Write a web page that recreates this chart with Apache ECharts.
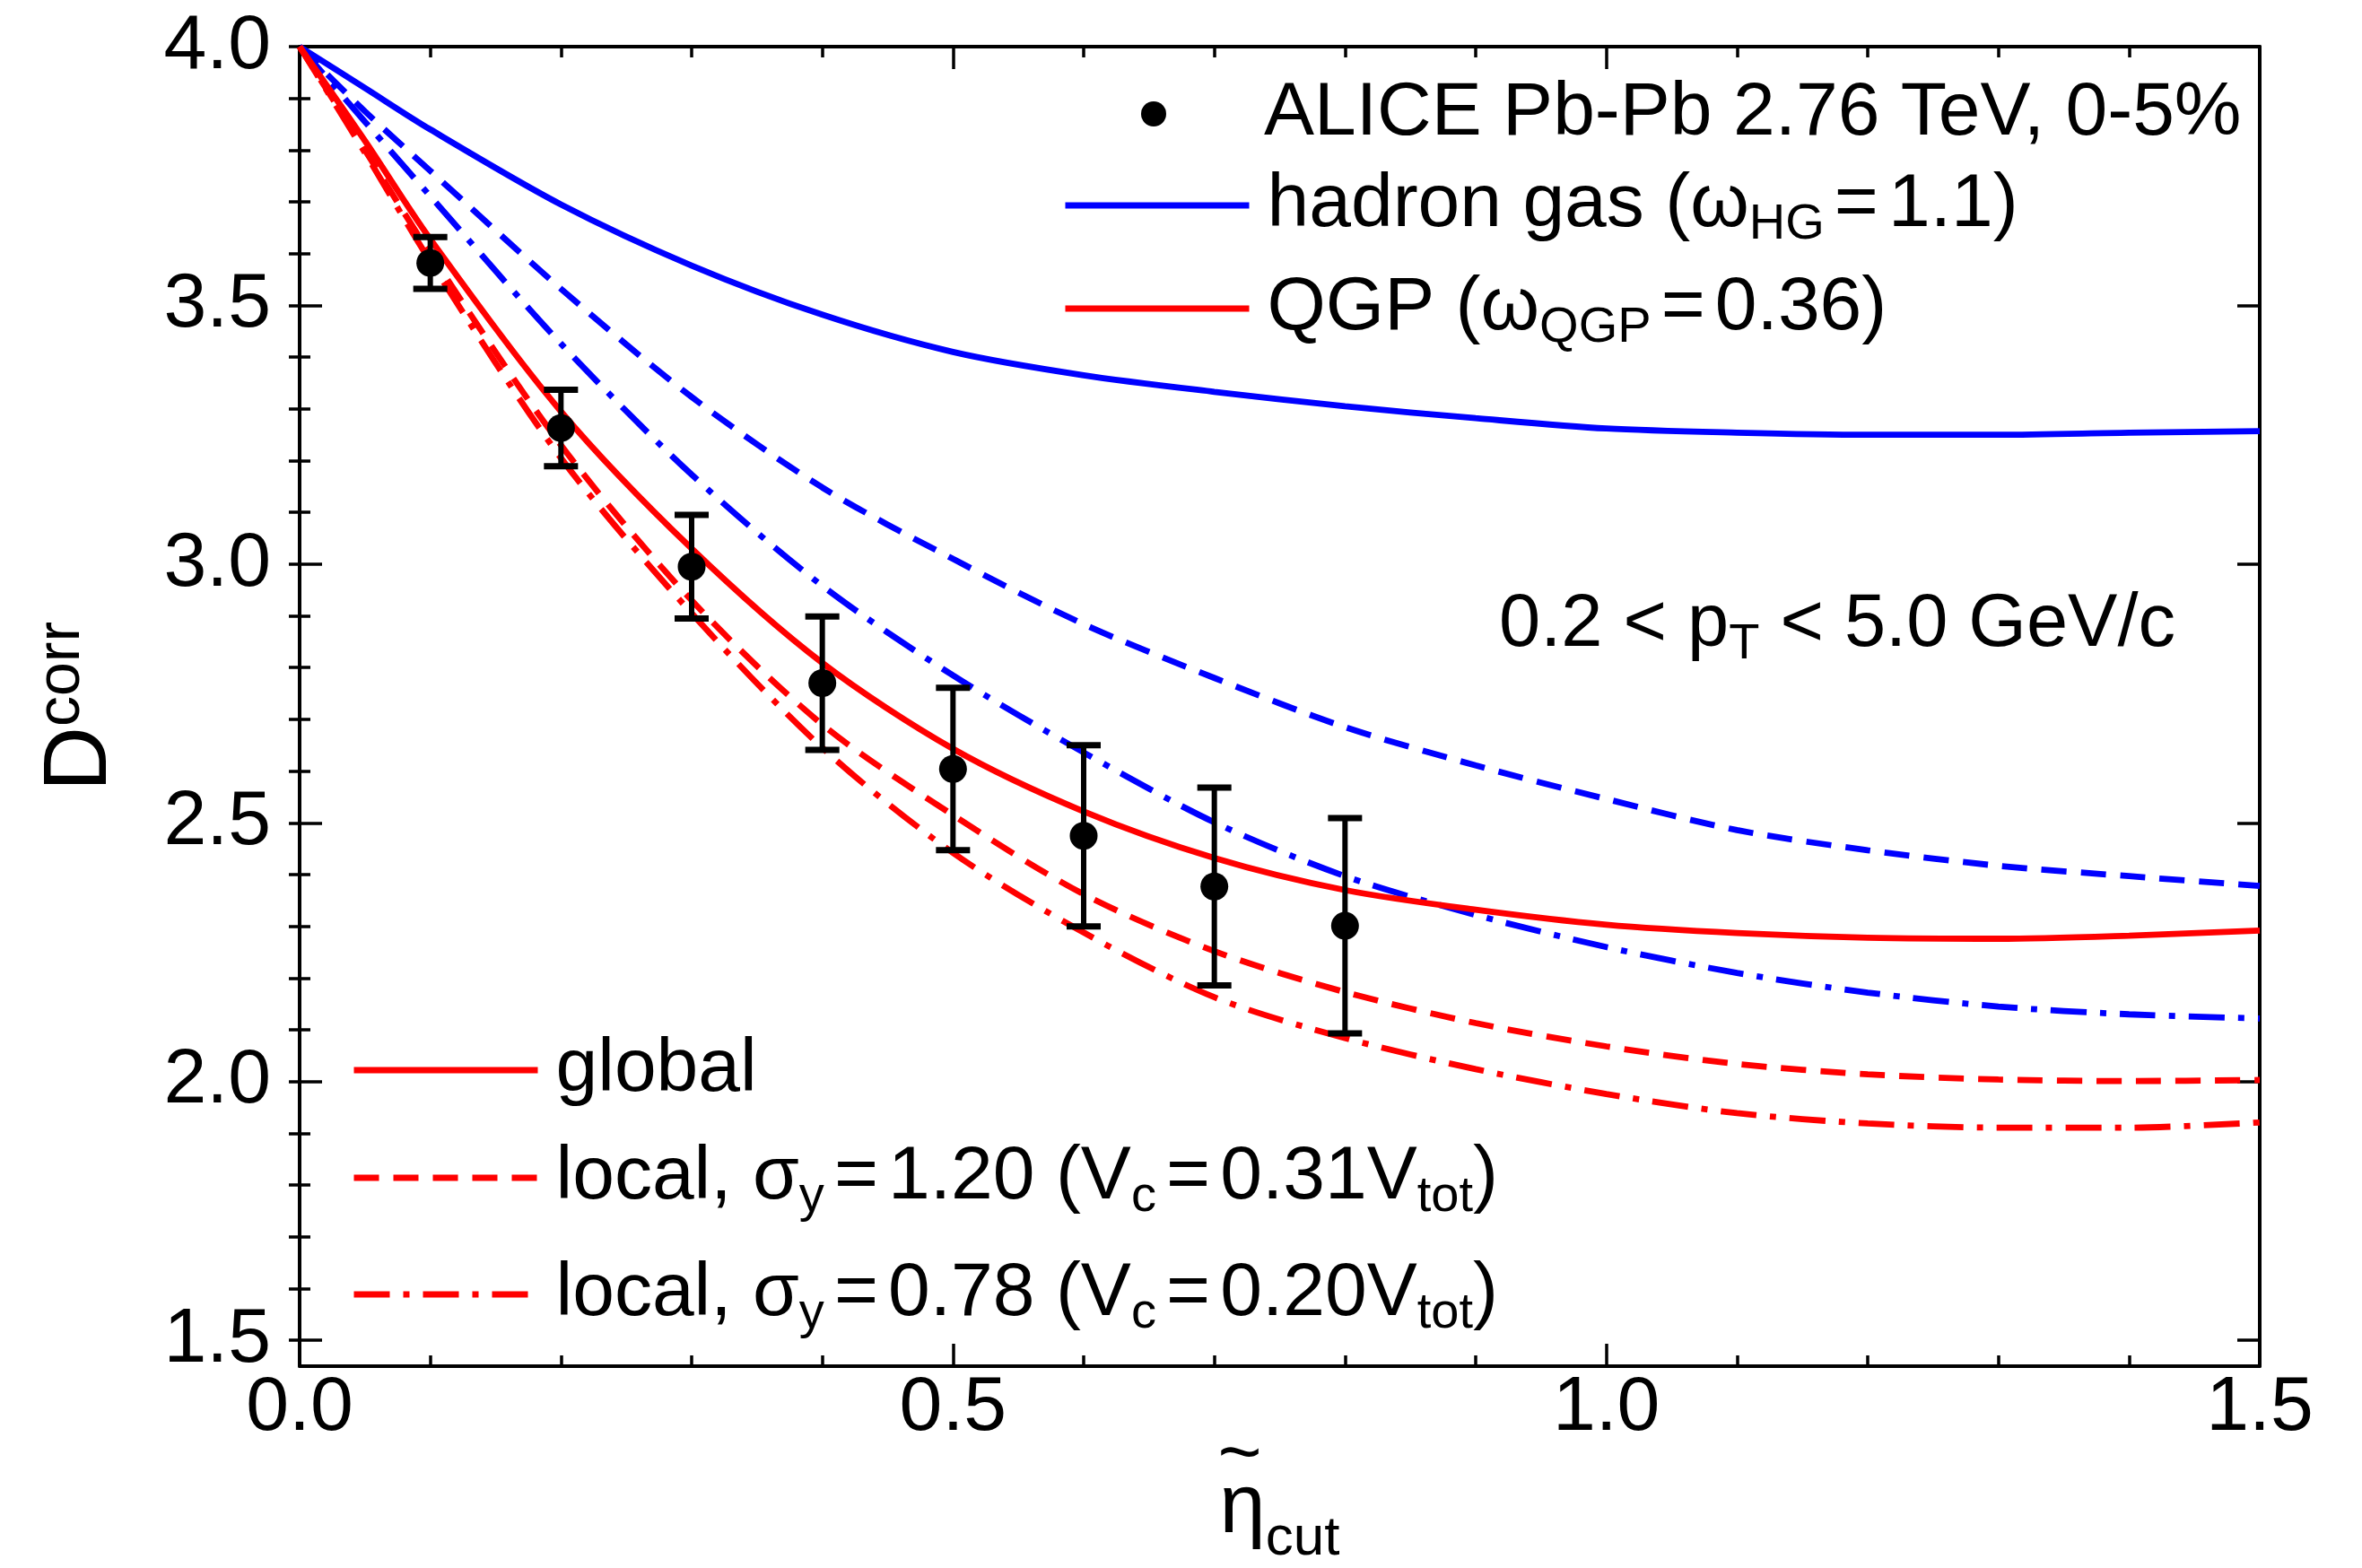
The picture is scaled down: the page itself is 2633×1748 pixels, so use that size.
<!DOCTYPE html>
<html>
<head>
<meta charset="utf-8">
<script src="https://cdn.jsdelivr.net/npm/echarts@6/dist/echarts.min.js"></script>
<style>
html,body{margin:0;padding:0;background:#ffffff;}
#c{width:2633px;height:1748px;}
</style>
</head>
<body>
<div id="c"></div>
<script>
// ---------------- data ----------------
const etaCut      = [0, 0.05, 0.1, 0.2, 0.3, 0.4, 0.5, 0.6, 0.7, 0.8, 0.9, 1.0, 1.1, 1.2, 1.3, 1.4, 1.5];
const hgGlobal    = [4.0, 3.92, 3.84, 3.695, 3.577, 3.482, 3.41, 3.365, 3.333, 3.305, 3.282, 3.262, 3.254, 3.25, 3.25, 3.254, 3.257];
const hgLocal120  = [4.0, 3.875, 3.76, 3.532, 3.323, 3.148, 3.01, 2.884, 2.78, 2.685, 2.611, 2.546, 2.486, 2.447, 2.417, 2.397, 2.378];
const hgLocal078  = [4.0, 3.855, 3.711, 3.426, 3.173, 2.958, 2.785, 2.636, 2.501, 2.397, 2.322, 2.26, 2.21, 2.172, 2.145, 2.13, 2.122];
const qgpGlobal   = [4.0, 3.818, 3.628, 3.295, 3.03, 2.809, 2.643, 2.522, 2.432, 2.37, 2.332, 2.303, 2.287, 2.278, 2.276, 2.282, 2.292];
const qgpLocal120 = [4.0, 3.80, 3.60, 3.23, 2.93, 2.69, 2.515, 2.362, 2.252, 2.173, 2.113, 2.068, 2.034, 2.014, 2.004, 2.001, 2.003];
const qgpLocal078 = [4.0, 3.795, 3.585, 3.205, 2.905, 2.645, 2.442, 2.288, 2.163, 2.084, 2.024, 1.976, 1.939, 1.919, 1.911, 1.911, 1.921];

const aliceEta = [0.1, 0.2, 0.3, 0.4, 0.5, 0.6, 0.7, 0.8];
const aliceD   = [3.582, 3.263, 2.995, 2.770, 2.604, 2.475, 2.377, 2.301];
const aliceErr = [0.05, 0.074, 0.10, 0.129, 0.157, 0.175, 0.191, 0.208];

const yMajorTicks = [1.5, 2.0, 2.5, 3.0, 3.5, 4.0];
const yMinorTicks = [1.5, 1.6, 1.7, 1.8, 1.9, 2.0, 2.1, 2.2, 2.3, 2.4, 2.5, 2.6, 2.7, 2.8, 2.9, 3.0, 3.1, 3.2, 3.3, 3.4, 3.5, 3.6, 3.7, 3.8, 3.9, 4.0];

const nameAlice = 'ALICE Pb-Pb 2.76 TeV, 0-5%';
const nameHG    = 'hadron gas';
const nameQGP   = 'QGP';
const nameGlob  = 'global';
const nameL120  = 'local 1.20';
const nameL078  = 'local 0.78';

const labelAlice = '{m|ALICE Pb-Pb 2.76 TeV, 0-5%}';
const labelHG    = '{m|hadron gas (ω}{s|HG}{t| }{m|=}{t| }{m|1.1)}';
const labelQGP   = '{m|QGP (ω}{s|QGP}{t| }{m|=}{t| }{m|0.36)}';
const labelGlob  = '{m|global}';
const labelL120  = '{m|local, σ}{s|y}{t| }{m|=}{t| }{m|1.20 (V}{s|c}{t| }{m|=}{t| }{m|0.31V}{s|tot}{m|)}';
const labelL078  = '{m|local, σ}{s|y}{t| }{m|=}{t| }{m|0.78 (V}{s|c}{t| }{m|=}{t| }{m|0.20V}{s|tot}{m|)}';
const labelCut   = '{m|0.2 < p}{s|T}{m| < 5.0 GeV/c}';

// ---------------- styles ----------------
const FONT = "'Liberation Sans', Arial, Helvetica, sans-serif";
const BLUE = '#0000ff', RED = '#ff0000';
const LW = 6.8;
const DASH = [28, 16];
const DASHDOT = [40, 15, 7, 15];

const pair = (xs, ys) => xs.map((x, i) => [x, ys[i]]);

const richText = {
  m: {fontSize: 84, fontFamily: FONT, color: '#000', lineHeight: 100, verticalAlign: 'middle'},
  s: {fontSize: 56, fontFamily: FONT, color: '#000', lineHeight: 40, verticalAlign: 'bottom'},
  t: {fontSize: 40, fontFamily: FONT, color: '#000', lineHeight: 100, verticalAlign: 'middle'}
};
const richNote = {
  m: {fontSize: 83, fontFamily: FONT, color: '#000', lineHeight: 100, verticalAlign: 'middle'},
  s: {fontSize: 56, fontFamily: FONT, color: '#000', lineHeight: 40, verticalAlign: 'bottom'}
};

const axisLineStyle = {color: '#000', width: 4};
const tickLine = {color: '#000', width: 3.5};

function lineSeries(name, ys, color, type, z) {
  return {
    type: 'line', name: name, data: pair(etaCut, ys),
    symbol: 'none', showSymbol: false, smooth: 0.3,
    lineStyle: {color: color, width: LW, type: type, cap: 'butt'},
    itemStyle: {color: color}, z: z, silent: true, animation: false,
    xAxisIndex: 0, yAxisIndex: 0
  };
}

function legendRow(name, label, left, cy) {
  return {
    data: [name], orient: 'vertical', left: left, top: cy - 50,
    itemWidth: 205, itemHeight: 14, padding: 0, itemGap: 0,
    selectedMode: false,
    itemStyle: {opacity: 0},
    lineStyle: {width: 7},
    formatter: () => label,
    textStyle: {padding: [0, 0, 0, 15], rich: richText}
  };
}

const chart = echarts.init(document.getElementById('c'), null, {renderer: 'canvas', width: 2633, height: 1748});

const option = {
  backgroundColor: '#ffffff',
  animation: false,
  grid: {left: 334, right: 114, top: 52, bottom: 225, containLabel: false, outerBoundsMode: 'none'},
  xAxis: [
    {
      type: 'value', position: 'bottom', min: 0, max: 1.5, interval: 0.5,
      axisLine: {show: true, onZero: false, lineStyle: axisLineStyle},
      axisTick: {show: true, inside: true, length: 25, lineStyle: tickLine},
      minorTick: {show: true, splitNumber: 5, length: 12, lineStyle: tickLine},
      splitLine: {show: false}, minorSplitLine: {show: false},
      axisLabel: {fontSize: 86, fontFamily: FONT, color: '#000', margin: 4, formatter: v => v.toFixed(1)},
      name: '{e|η}{c|cut}', nameLocation: 'middle', nameGap: 110,
      nameTextStyle: {
        rich: {
          e: {fontSize: 92, fontFamily: FONT, color: '#000', lineHeight: 100, verticalAlign: 'middle'},
          c: {fontSize: 62, fontFamily: FONT, color: '#000', lineHeight: 40, verticalAlign: 'top', padding: [52, 0, 0, 0]}
        }
      }
    },
    {
      type: 'value', position: 'top', min: 0, max: 1.5, interval: 0.5,
      axisLine: {show: true, onZero: false, lineStyle: axisLineStyle},
      axisTick: {show: true, inside: true, length: 25, lineStyle: tickLine},
      minorTick: {show: true, splitNumber: 5, length: 12, lineStyle: tickLine},
      splitLine: {show: false}, minorSplitLine: {show: false},
      axisLabel: {show: false}
    }
  ],
  yAxis: [
    {
      type: 'value', position: 'left', min: 1.45, max: 4.0,
      axisLine: {show: true, onZero: false, lineStyle: axisLineStyle},
      axisTick: {show: true, inside: true, length: 25, customValues: yMajorTicks, lineStyle: tickLine},
      axisLabel: {customValues: yMajorTicks, fontSize: 86, fontFamily: FONT, color: '#000', margin: 32, formatter: v => v.toFixed(1)},
      splitLine: {show: false},
      name: '{d|D}{p|corr}', nameLocation: 'middle', nameGap: 189, nameRotate: 90,
      nameTextStyle: {
        rich: {
          d: {fontSize: 100, fontFamily: FONT, color: '#000', lineHeight: 110, verticalAlign: 'middle'},
          p: {fontSize: 68, fontFamily: FONT, color: '#000', lineHeight: 52, verticalAlign: 'top'}
        }
      }
    },
    {
      type: 'value', position: 'left', min: 1.45, max: 4.0,
      axisLine: {show: false},
      axisTick: {show: true, inside: true, length: 12, customValues: yMinorTicks, lineStyle: tickLine},
      axisLabel: {show: false}, splitLine: {show: false}
    },
    {
      type: 'value', position: 'right', min: 1.45, max: 4.0,
      axisLine: {show: true, onZero: false, lineStyle: axisLineStyle},
      axisTick: {show: true, inside: true, length: 25, customValues: yMajorTicks, lineStyle: tickLine},
      axisLabel: {show: false}, splitLine: {show: false}
    },
    {
      type: 'value', position: 'right', min: 1.45, max: 4.0,
      axisLine: {show: false},
      axisTick: {show: true, inside: true, length: 12, customValues: yMinorTicks, lineStyle: tickLine},
      axisLabel: {show: false}, splitLine: {show: false}
    }
  ],
  legend: [
    {
      data: [nameAlice], orient: 'vertical', left: 1272, top: 135 - 50,
      itemWidth: 28, itemHeight: 28, padding: 0, itemGap: 0,
      selectedMode: false,
      formatter: () => labelAlice,
      textStyle: {padding: [0, 0, 0, 104], rich: richText}
    },
    legendRow(nameHG, labelHG, 1184, 237),
    legendRow(nameQGP, labelQGP, 1184, 352),
    legendRow(nameGlob, labelGlob, 391, 1201),
    legendRow(nameL120, labelL120, 391, 1321),
    legendRow(nameL078, labelL078, 391, 1451)
  ],
  graphic: [
    {
      type: 'text', x: 1671, y: 697, silent: true,
      style: {text: labelCut, rich: richNote, align: 'left', verticalAlign: 'middle'}
    },
    {
      type: 'text', x: 1382, y: 1624, silent: true,
      style: {text: '~', fontSize: 84, fontFamily: FONT, fill: '#000', align: 'center', verticalAlign: 'middle'}
    }
  ],
  series: [
    lineSeries(nameHG, hgGlobal, BLUE, 'solid', 2),
    lineSeries('hadron gas local 1.20', hgLocal120, BLUE, DASH, 2),
    lineSeries('hadron gas local 0.78', hgLocal078, BLUE, DASHDOT, 2),
    lineSeries(nameQGP, qgpGlobal, RED, 'solid', 3),
    lineSeries(nameL120, qgpLocal120, RED, DASH, 3),
    lineSeries(nameL078, qgpLocal078, RED, DASHDOT, 3),
    Object.assign(lineSeries(nameGlob, qgpGlobal, RED, 'solid', 1), {data: []}),
    {
      type: 'custom', name: 'ALICE errors', silent: true, z: 5,
      data: aliceEta.map((x, i) => [x, aliceD[i] - aliceErr[i], aliceD[i] + aliceErr[i]]),
      encode: {x: 0, y: [1, 2]},
      renderItem: (params, api) => {
        const x = api.value(0);
        const lo = api.coord([x, api.value(1)]);
        const hi = api.coord([x, api.value(2)]);
        const hw = 19;
        return {
          type: 'group',
          children: [
            {type: 'line', shape: {x1: lo[0], y1: lo[1], x2: hi[0], y2: hi[1]}, style: {stroke: '#000', lineWidth: 6}},
            {type: 'line', shape: {x1: lo[0] - hw, y1: lo[1], x2: lo[0] + hw, y2: lo[1]}, style: {stroke: '#000', lineWidth: 7}},
            {type: 'line', shape: {x1: hi[0] - hw, y1: hi[1], x2: hi[0] + hw, y2: hi[1]}, style: {stroke: '#000', lineWidth: 7}}
          ]
        };
      }
    },
    {
      type: 'scatter', name: nameAlice, data: pair(aliceEta, aliceD),
      symbol: 'circle', symbolSize: 31, itemStyle: {color: '#000', opacity: 1}, z: 6, silent: true
    }
  ]
};

chart.setOption(option);
</script>
</body>
</html>
